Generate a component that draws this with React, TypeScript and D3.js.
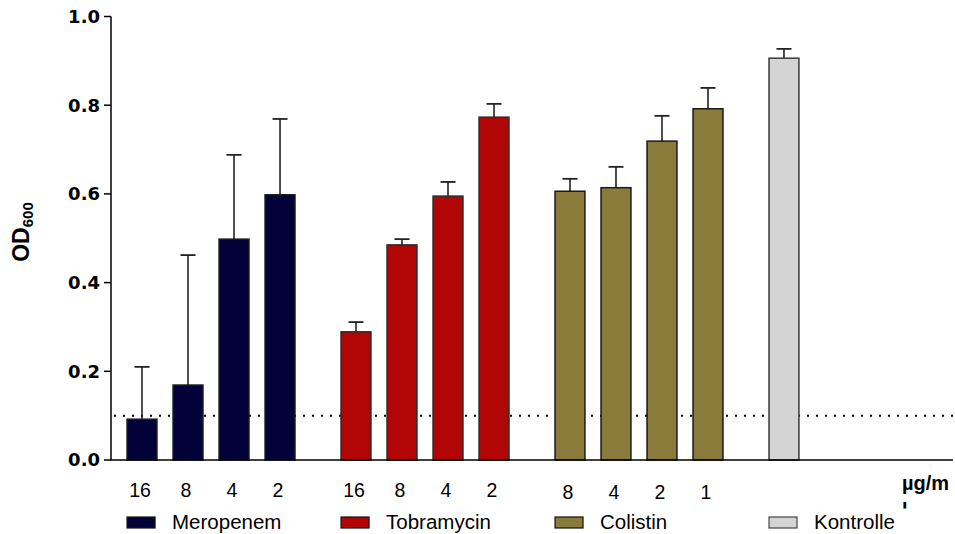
import React from "react";
import * as d3 from "d3";

const groups = ["Meropenem", "Tobramycin", "Colistin", "Kontrolle"];
const doseLabels = [
  ["16", "8", "4", "2"],
  ["16", "8", "4", "2"],
  ["8", "4", "2", "1"],
  ["", "", "", ""],
];
const meanValues = [
  [0.092, 0.169, 0.498, 0.598],
  [0.289, 0.485, 0.595, 0.773],
  [0.606, 0.614, 0.719, 0.792],
  [0.906],
];
const sdValues = [
  [0.118, 0.293, 0.19, 0.171],
  [0.022, 0.013, 0.032, 0.03],
  [0.028, 0.047, 0.057, 0.047],
  [0.021],
];
const groupColors = ["#020238", "#B20606", "#8B7B3A", "#D4D4D4"];
const groupStrokes = ["#1a1a1a", "#2a2a2a", "#1a1a1a", "#3a3a3a"];
const yTicks = [0, 0.2, 0.4, 0.6, 0.8, 1.0];
const thresholdValue = 0.1;
const unitLabel = "µg/ml";

const W = 955;
const H = 534;
const axisX = 111;

export default function App() {
  const y = d3.scaleLinear().domain([0, 1]).range([460, 16.5]);
  const xGroup = d3
    .scaleBand<number>()
    .domain(d3.range(groups.length))
    .range([119, 945])
    .paddingInner(0.14)
    .paddingOuter(0);
  const xSlot = d3
    .scaleBand<number>()
    .domain(d3.range(4))
    .range([0, xGroup.bandwidth()])
    .paddingInner(0.35)
    .paddingOuter(0.175);
  const bw = xSlot.bandwidth();
  const slotCenter = (g: number, i: number) =>
    (xGroup(g) as number) + (xSlot(i) as number) + bw / 2;
  const unitX = slotCenter(3, 3) - 20;

  return (
    <svg
      width={W}
      height={H}
      style={{ position: "absolute", left: 0, top: 0, display: "block", background: "#fff" }}
      fontFamily="'Liberation Sans', Arial, sans-serif"
    >
      <defs>
        <clipPath id="unitClip">
          <rect x={880} y={470} width={75} height={38.5} />
        </clipPath>
      </defs>

      {/* threshold dotted line */}
      <line
        x1={axisX + 3}
        x2={953}
        y1={y(thresholdValue)}
        y2={y(thresholdValue)}
        stroke="#000"
        strokeWidth={2}
        strokeDasharray="2,7"
      />

      {/* bars and error bars */}
      {meanValues.map((vals, g) =>
        vals.map((v, i) => {
          const cx = slotCenter(g, i);
          const top = y(v);
          const errTop = y(v + sdValues[g][i]);
          return (
            <g key={`${g}-${i}`}>
              <line x1={cx} x2={cx} y1={top} y2={errTop} stroke="#222" strokeWidth={1.6} />
              <line x1={cx - 7.5} x2={cx + 7.5} y1={errTop} y2={errTop} stroke="#222" strokeWidth={1.8} />
              <rect
                x={cx - bw / 2}
                y={top}
                width={bw}
                height={y(0) - top}
                fill={groupColors[g]}
                stroke={groupStrokes[g]}
                strokeWidth={1.5}
              />
            </g>
          );
        })
      )}

      {/* axes */}
      <line x1={axisX} x2={axisX} y1={y(1)} y2={y(0)} stroke="#000" strokeWidth={1.5} />
      <line x1={axisX - 0.75} x2={953} y1={y(0)} y2={y(0)} stroke="#000" strokeWidth={1.5} />
      {yTicks.map((t) => (
        <g key={t}>
          <line x1={axisX - 7} x2={axisX} y1={y(t)} y2={y(t)} stroke="#000" strokeWidth={1.5} />
          <text
            x={axisX - 11}
            y={y(t)}
            dy="0.36em"
            textAnchor="end"
            fontFamily="'DejaVu Sans', sans-serif"
            fontWeight="bold"
            fontSize={18}
            fill="#000"
          >
            {t.toFixed(1)}
          </text>
        </g>
      ))}

      {/* y axis title */}
      <text
        transform={`translate(29, 232) rotate(-90)`}
        textAnchor="middle"
        fontWeight="bold"
        fontSize={23}
        fill="#000"
      >
        OD
        <tspan fontSize={15} dy={4}>600</tspan>
      </text>

      {/* x labels */}
      {doseLabels.map((labels, g) =>
        labels.map((lab, i) =>
          lab ? (
            <text
              key={`l-${g}-${i}`}
              x={slotCenter(g, i) - 2}
              y={g === 2 ? 499 : 497}
              textAnchor="middle"
              fontSize={19.5}
              fill="#000"
            >
              {lab}
            </text>
          ) : null
        )
      )}

      {/* unit label */}
      <g clipPath="url(#unitClip)">
        <text x={unitX} y={490} fontWeight="bold" fontSize={20} fill="#000">
          {unitLabel.slice(0, 4)}
        </text>
        <text x={unitX} y={517} fontWeight="bold" fontSize={20} fill="#000">
          {unitLabel.slice(4)}
        </text>
      </g>

      {/* legend */}
      {groups.map((name, g) => {
        const lx = (xGroup(g) as number) + (xSlot(0) as number);
        return (
          <g key={name}>
            <rect
              x={lx}
              y={517}
              width={28}
              height={11}
              fill={groupColors[g]}
              stroke={g === 3 ? "#444" : "#111"}
              strokeWidth={1.2}
            />
            <text x={lx + 45} y={528.5} fontSize={20.5} fill="#000">
              {name}
            </text>
          </g>
        );
      })}
    </svg>
  );
}
